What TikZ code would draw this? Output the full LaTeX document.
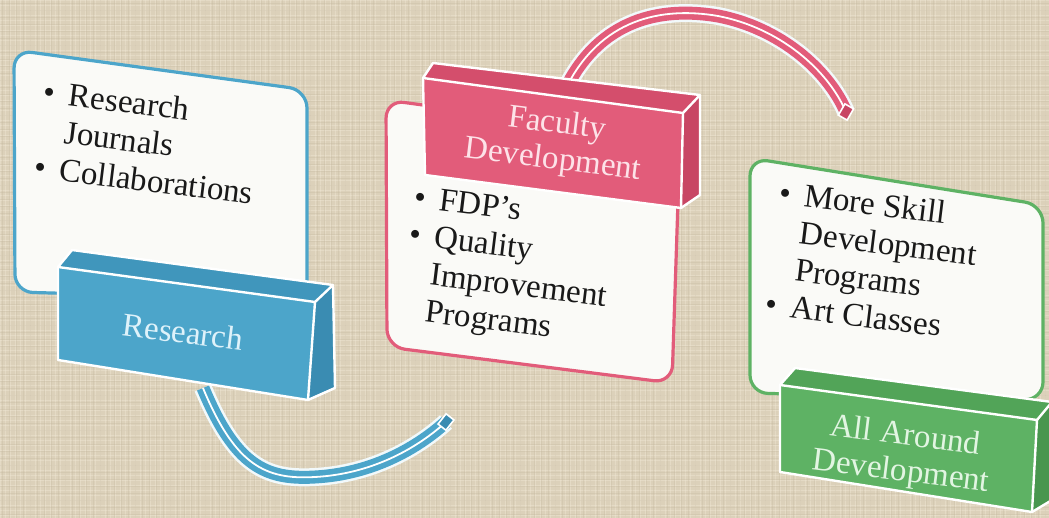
\documentclass[tikz,border=0pt]{standalone}
\usepackage{fontspec}
\setmainfont{Liberation Serif}
\usetikzlibrary{arrows.meta}
\definecolor{bgc}{RGB}{220,209,186}
\definecolor{texc}{RGB}{238,230,212}
\definecolor{texd}{RGB}{196,184,158}
\definecolor{cardc}{RGB}{250,250,247}
\definecolor{bluef}{RGB}{76,165,202}
\definecolor{bluet}{RGB}{64,150,188}
\definecolor{blues}{RGB}{58,140,178}
\definecolor{bluetx}{RGB}{222,242,250}
\definecolor{pinkf}{RGB}{226,92,122}
\definecolor{pinkt}{RGB}{212,78,108}
\definecolor{pinks}{RGB}{200,70,100}
\definecolor{pinktx}{RGB}{253,226,232}
\definecolor{greenf}{RGB}{94,178,100}
\definecolor{greent}{RGB}{82,164,88}
\definecolor{greens}{RGB}{72,150,78}
\definecolor{greentx}{RGB}{226,245,226}
\definecolor{halo}{RGB}{242,249,251}
\tikzset{
  texl/.style={texc, line width=0.7pt, opacity=0.45},
  texk/.style={texd, line width=0.5pt, opacity=0.3},
  card/.style={fill=cardc, line width=3.2pt, rounded corners=18pt, line join=round},
  edge/.style={draw=white, line width=2.4pt, line join=round},
  bullets/.style={rotate=-7, text=black!90, font=\fontsize{33}{37.5}\selectfont, inner sep=0pt},
  boxlabel/.style={rotate=-7, font=\fontsize{33}{36}\selectfont, align=center, inner sep=0pt},
  rhalo/.style={line width=18pt, halo},
  rband/.style={line width=13pt},
  rstripe/.style={line width=1.8pt, white},
  endface/.style={shape=rectangle, minimum width=10pt, minimum height=13pt, draw=white, line width=1.6pt, inner sep=0pt},
}
\begin{document}
\begin{tikzpicture}[x=1pt,y=-1pt]
\useasboundingbox (0,0) rectangle (1049,518);
\fill[bgc] (0,0) rectangle (1049,518);
\foreach \i in {0,5,...,1048} \draw[texl] (\i,0) -- (\i,518);
\foreach \j in {0,5,...,516} \draw[texl] (0,\j) -- (1049,\j);
\foreach \i in {2,9,...,1048} \draw[texk] (\i,0) -- (\i,518);
\foreach \j in {3,10,...,516} \draw[texk] (0,\j) -- (1049,\j);

% ---------- Panel 1 (blue) ----------
\coordinate (a1s) at (203,388);
\coordinate (a1e) at (446,422);
\draw[rhalo]
  (a1s) .. controls (235,465) and (265,480) .. (315,477) .. controls (370,474) and (415,450) .. (a1e);
\draw[rband, bluef]
  (a1s) .. controls (235,465) and (265,480) .. (315,477) .. controls (370,474) and (415,450) .. (a1e);
\draw[rstripe]
  (a1s) .. controls (235,465) and (265,480) .. (315,477) .. controls (370,474) and (415,450) .. (a1e);
\node[endface, fill=blues, rotate=-38] (a1h) at (a1e) {};

\draw[card, draw=bluef] (14,50) -- (307,90) -- (307,300) -- (15,292) -- cycle;
\node[bullets] (t1) at (148,146) {\begin{tabular}{@{}l@{\hspace{14pt}}l@{}}
\textbullet & Research\\ & Journals\\ \textbullet & Collaborations\end{tabular}};

\fill[bluet] (58,267) -- (72,250) -- (333,285) -- (315,302) -- cycle;
\fill[blues] (315,302) -- (333,285) -- (335,388) -- (308,400) -- cycle;
\fill[bluef] (58,267) -- (315,302) -- (308,400) -- (58,360) -- cycle;
\draw[edge] (58,267) -- (72,250) -- (333,285) -- (335,388) -- (308,400) -- (58,360) -- cycle;
\draw[edge] (58,267) -- (315,302) -- (308,400);
\draw[edge] (315,302) -- (333,285);
\node[boxlabel, text=bluetx] (b1) at (183,332) {Research};

% ---------- Panel 2 (pink) ----------
\draw[card, draw=pinkf] (386,100) -- (680,140) -- (672,383) -- (387,347) -- cycle;
\node[bullets] (t2) at (508,268) {\begin{tabular}{@{}l@{\hspace{14pt}}l@{}}
\textbullet & FDP’s\\ \textbullet & Quality\\ & Improvement\\ & Programs\end{tabular}};

\coordinate (a2s) at (566,88);
\coordinate (a2e) at (846,112);
\draw[rhalo]
  (a2s) .. controls (600,20) and (660,6) .. (718,16) .. controls (780,28) and (828,70) .. (a2e);
\draw[rband, pinkf]
  (a2s) .. controls (600,20) and (660,6) .. (718,16) .. controls (780,28) and (828,70) .. (a2e);
\draw[rstripe]
  (a2s) .. controls (600,20) and (660,6) .. (718,16) .. controls (780,28) and (828,70) .. (a2e);
\node[endface, fill=pinks, rotate=-30] (a2h) at (a2e) {};

\fill[pinkt] (423,78) -- (433,63) -- (700,95) -- (683,113) -- cycle;
\fill[pinks] (683,113) -- (700,95) -- (700,195) -- (681,208) -- cycle;
\fill[pinkf] (423,78) -- (683,113) -- (681,208) -- (425,175) -- cycle;
\draw[edge] (423,78) -- (433,63) -- (700,95) -- (700,195) -- (681,208) -- (425,175) -- cycle;
\draw[edge] (423,78) -- (683,113) -- (681,208);
\draw[edge] (683,113) -- (700,95);
\node[boxlabel, text=pinktx] (b2) at (555,143) {Faculty\\Development};

% ---------- Panel 3 (green) ----------
\draw[card, draw=greenf] (750,158) -- (1043,205) -- (1043,400) -- (750,393) -- cycle;
\node[bullets] (t3) at (873,264) {\begin{tabular}{@{}l@{\hspace{14pt}}l@{}}
\textbullet & More Skill\\ & Development\\ & Programs\\ \textbullet & Art Classes\end{tabular}};

\fill[greent] (780,385) -- (795,368) -- (1052,402) -- (1037,420) -- cycle;
\fill[greens] (1037,420) -- (1052,402) -- (1052,500) -- (1032,512) -- cycle;
\fill[greenf] (780,385) -- (1037,420) -- (1032,512) -- (780,472) -- cycle;
\draw[edge] (780,385) -- (795,368) -- (1052,402) -- (1052,500) -- (1032,512) -- (780,472) -- cycle;
\draw[edge] (780,385) -- (1037,420) -- (1032,512);
\draw[edge] (1037,420) -- (1052,402);
\node[boxlabel, text=greentx] (b3) at (903,455) {All Around\\Development};
\end{tikzpicture}
\end{document}
